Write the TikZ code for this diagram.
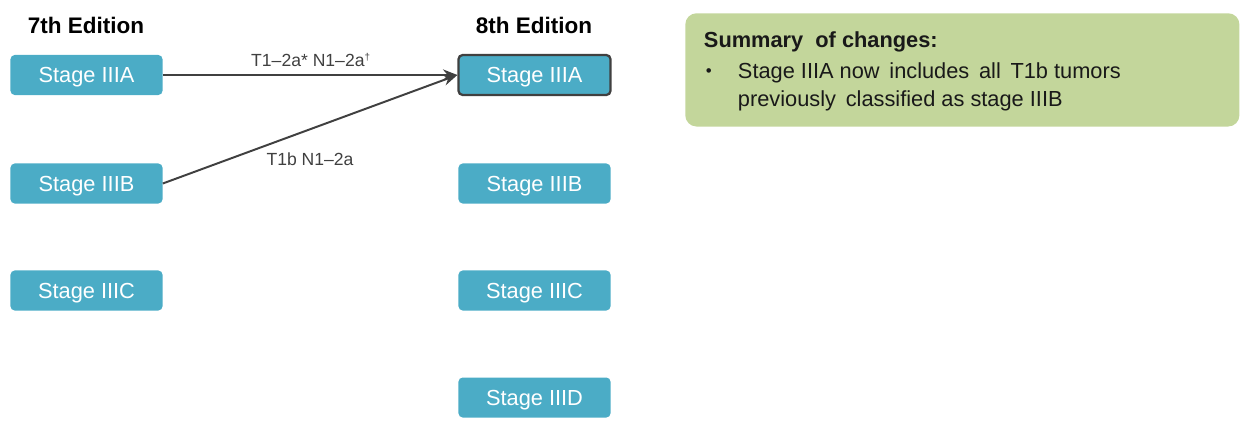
\documentclass[tikz,border=0pt]{standalone}
\usepackage{fontspec}
\setmainfont{Liberation Sans}
\usetikzlibrary{arrows.meta,positioning}
\definecolor{stageblue}{HTML}{4BACC6}
\definecolor{darkline}{HTML}{404040}
\definecolor{summarygreen}{HTML}{C3D69B}
\begin{document}
\begin{tikzpicture}[x=0.025cm,y=-0.025cm]
\tikzset{
  stagebox/.style={rectangle,rounded corners=3pt,fill=stageblue,text=white,minimum width=3.8cm,minimum height=1cm,inner sep=1pt,text height=11pt,text depth=0pt,font=\fontsize{15.5}{18}\selectfont},
  header/.style={font=\fontsize{16}{19}\selectfont\bfseries},
  edgelabel/.style={text=darkline,font=\fontsize{12.5}{15}\selectfont},
  move/.style={-{Stealth[length=3.6mm,width=2.8mm]},draw=darkline,line width=1.4pt},
  summarytext/.style={anchor=west,text=black!90,font=\fontsize{15.5}{18}\selectfont}
}
\useasboundingbox (0,0) rectangle (1240,427);
% headers
\node[header] (h7) at (86,25) {7th Edition};
\node[header] (h8) at (534,25) {8th Edition};
% 7th edition stages
\node[stagebox] (o3a) at (86.5,75) {Stage IIIA};
\node[stagebox] (o3b) at (86.5,183.5) {Stage IIIB};
\node[stagebox] (o3c) at (86.5,290.5) {Stage IIIC};
% 8th edition stages
\node[stagebox,draw=darkline,line width=1.6pt] (n3a) at (534.5,75) {Stage IIIA};
\node[stagebox] (n3b) at (534.5,183.5) {Stage IIIB};
\node[stagebox] (n3c) at (534.5,290.5) {Stage IIIC};
\node[stagebox] (n3d) at (534.5,397.5) {Stage IIID};
% moves
\draw[move] (o3a.east) -- (n3a.west);
\draw[move] (o3b.east) -- (n3a.west);
\node[edgelabel] (l1) at (311,60) {T1–2a* N1–2a\textsuperscript{\scriptsize †}};
\node[edgelabel] (l2) at (310,159) {T1b N1–2a};
% summary
\node[rectangle,rounded corners=8pt,fill=summarygreen,minimum width=13.85cm,minimum height=2.83cm,anchor=north west] (summary) at (685,13) {};
\node[summarytext,font=\fontsize{15.5}{18}\selectfont\bfseries] (stitle) at (699,42) {Summary\ \ of changes:};
\node[summarytext,font=\fontsize{12}{18}\selectfont] (bullet) at (701,73) {•};
\node[summarytext] (s1) at (733,73) {Stage IIIA now\ \,includes\ \,all\ \,T1b tumors};
\node[summarytext] (s2) at (733,101) {previously\ \,classified as stage IIIB};
\end{tikzpicture}
\end{document}
